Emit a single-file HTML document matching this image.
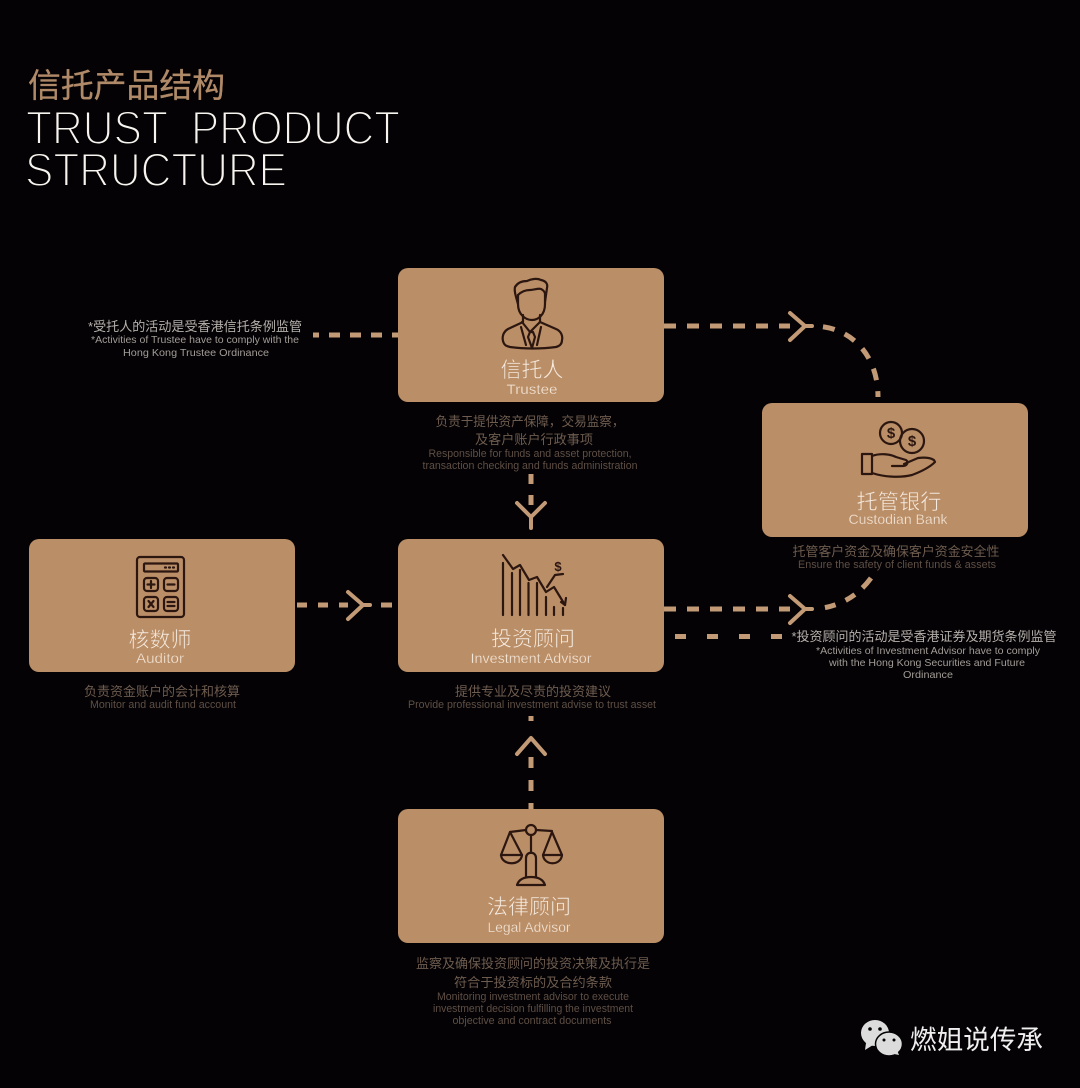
<!DOCTYPE html>
<html>
<head>
<meta charset="utf-8">
<style>
html,body{margin:0;padding:0;background:#040204;width:1080px;height:1088px;overflow:hidden}
svg{display:block;filter:blur(.35px)}
text{font-family:"Liberation Sans","Noto Sans CJK SC",sans-serif;text-anchor:middle}
.b{fill:#ba8e67}
.d{fill:none;stroke:#c29a76;stroke-width:5}
.a{fill:none;stroke:#c29a76;stroke-width:4;stroke-linecap:round;stroke-linejoin:round}
.i{fill:none;stroke:#2c1610;stroke-width:2.2;stroke-linecap:round;stroke-linejoin:round}
.cn{font-size:21px;fill:#f6ebdf;stroke:#ba8e67;stroke-width:.5}
.en{font-size:14px;fill:#f3e5d6;stroke:#ba8e67;stroke-width:.25}
.dc{font-size:13px;fill:#6e5c4f}
.de{font-size:11px;fill:#5e4f45}
.nc{font-size:13px;fill:#b5b0ab}
.ne{font-size:10.5px;fill:#a29d98}
.tt{font-size:47.5px;fill:#f8f5f0;stroke:#040204;stroke-width:2;text-anchor:start}
</style>
</head>
<body>
<svg width="1080" height="1088" viewBox="0 0 1080 1088" xmlns="http://www.w3.org/2000/svg">
<rect width="1080" height="1088" fill="#040204"/>

<!-- Title -->
<text x="28" y="97" style="text-anchor:start;font-size:33px;fill:#b08a68;stroke:#b08a68;stroke-width:.3" textLength="197" lengthAdjust="spacingAndGlyphs">信托产品结构</text>
<text class="tt" x="26" y="144" textLength="142" lengthAdjust="spacingAndGlyphs">TRUST</text>
<text class="tt" x="191" y="144" textLength="209" lengthAdjust="spacingAndGlyphs">PRODUCT</text>
<text class="tt" x="25" y="186" textLength="262" lengthAdjust="spacingAndGlyphs">STRUCTURE</text>

<!-- Connectors -->
<g class="d">
<path d="M313 335H398" stroke-dasharray="6 10 11 10 11 10 11 10 11"/>
<path d="M664 326H790" stroke-dasharray="12 11"/>
<path d="M813 326C848 326 878 352 878 397" stroke-dasharray="0 10 12 11 12 11 12 11 12 11 12"/>
<path d="M664 609H790" stroke-dasharray="12 11"/>
<path d="M813 609C838 608 858 596 871 578" stroke-dasharray="0 12 11 11 11 10 12"/>
<path d="M664 636.500H783" stroke-dasharray="0 11 11 10"/>
<path d="M297 605H348" stroke-dasharray="10 11"/>
<path d="M381 605H392"/>
<path d="M531 474V506" stroke-dasharray="10 11"/>
<path d="M531 716V721"/>
<path d="M531 757V809" stroke-dasharray="11 12"/>
</g>
<g class="a">
<path d="M790 313L805 326L790 340M805 326H812"/>
<path d="M790 596L805 609L790 623M805 609H812"/>
<path d="M348 592L363 605L348 619M363 605H370"/>
<path d="M517 503L531 517L545 503M531 517V528"/>
<path d="M517 754L531 738L545 754"/>
</g>

<!-- Boxes -->
<rect class="b" x="398" y="268" width="266" height="134" rx="10"/>
<rect class="b" x="762" y="403" width="266" height="134" rx="10"/>
<rect class="b" x="29" y="539" width="266" height="133" rx="10"/>
<rect class="b" x="398" y="539" width="266" height="133" rx="10"/>
<rect class="b" x="398" y="809" width="266" height="134" rx="10"/>

<!-- Person icon -->
<g class="i">
<path d="M518 304C516 297 514 291 515 287C518 282 523 281 527 281C531 279 537 278 541 280C546 281 548 284 547 288L545 302"/>
<path d="M518 295C522 291 526 290 530 290C534 290 538 288 541 289C543 290 545 292 545 294"/>
<path d="M518 295V304C518 315 526 320 532 320C538 320 545 315 545 304V294"/>
<path d="M523 315V322L508 329C503 332 502 337 503 341C504 345 506 346 510 347C524 349 542 349 556 347C560 346 562 344 562 340C563 336 561 331 556 329L540 322V315"/>
<path d="M522 322L530 332L540 322M521 327L526 345M541 327L537 345"/>
<path d="M530 332L528 337L532 348L535 337L533 332Z"/>
</g>

<!-- Coins hand icon -->
<g class="i">
<circle cx="891" cy="433" r="11"/>
<circle cx="912" cy="441" r="12"/>
<path d="M862 454H872V474H862Z"/>
<path d="M872 456C880 453 890 454 896 457L906 460C909 462 907 466 903 466L892 466M904 464L918 458C926 457 934 458 935 462C930 467 920 472 912 475C900 478 884 477 872 473"/>
</g>
<text x="891" y="438" style="font-size:15px;font-weight:bold;fill:#2c1610">$</text>
<text x="912" y="446" style="font-size:15px;font-weight:bold;fill:#2c1610">$</text>

<!-- Calculator icon -->
<g class="i">
<rect x="137" y="557" width="47" height="60" rx="3"/>
<rect x="144" y="563.500" width="34" height="8" rx="1"/>
<rect x="144" y="578" width="14" height="13" rx="3"/>
<rect x="164" y="578" width="14" height="13" rx="3"/>
<rect x="144" y="597" width="14" height="14" rx="3"/>
<rect x="164" y="597" width="14" height="14" rx="3"/>
<path d="M147.500 584.500H154.500M151 581V588M167.500 584.500H174.500M148.500 601L153.500 607M153.500 601L148.500 607M167.500 602H174.500M167.500 606H174.500M165 567.500H166M169 567.500H170M173 567.500H174"/>
</g>

<!-- Chart icon -->
<g class="i">
<path d="M503 563V615M512 573V615M520 570V615M528.500 583V615M537 583V615M546 597V615M554 607V615M563 608V615"/>
<path d="M503 555L513 569L520 565L529 580L537 577L546 592L554 587L565 605"/>
<path d="M561 602L565 605L566 598"/>
<path d="M547 587L555 575L563 574"/>
</g>
<text x="558" y="571" style="font-size:13px;font-weight:bold;fill:#2c1610">$</text>

<!-- Scale icon -->
<g class="i">
<circle cx="531" cy="830" r="5"/>
<path d="M526 830L510 832M536 830L552 831"/>
<path d="M510 832L501 855H522Z"/>
<path d="M501 855C502 866 521 866 522 855"/>
<path d="M552 832L543 855H562Z"/>
<path d="M543 855C544 866 561 866 562 855"/>
<path d="M531 835V853"/>
<path d="M526 877V858C526 851 536 851 536 858V877"/>
<path d="M517 885C519 879 525 877 531 877C537 877 543 879 545 885Z"/>
</g>

<!-- Box labels -->
<text class="cn" x="532" y="377" textLength="63" lengthAdjust="spacingAndGlyphs">信托人</text>
<text class="en" x="532" y="394" textLength="51" lengthAdjust="spacingAndGlyphs">Trustee</text>
<text class="cn" x="899" y="509" textLength="85" lengthAdjust="spacingAndGlyphs">托管银行</text>
<text class="en" x="898" y="524" textLength="99" lengthAdjust="spacingAndGlyphs">Custodian Bank</text>
<text class="cn" x="160" y="647" textLength="63" lengthAdjust="spacingAndGlyphs">核数师</text>
<text class="en" x="160" y="663" textLength="48" lengthAdjust="spacingAndGlyphs">Auditor</text>
<text class="cn" x="533" y="646" textLength="84" lengthAdjust="spacingAndGlyphs">投资顾问</text>
<text class="en" x="531" y="663" textLength="121" lengthAdjust="spacingAndGlyphs">Investment Advisor</text>
<text class="cn" x="529" y="914" textLength="84" lengthAdjust="spacingAndGlyphs">法律顾问</text>
<text class="en" x="529" y="932" textLength="83" lengthAdjust="spacingAndGlyphs">Legal Advisor</text>

<!-- Descriptions -->
<text class="dc" x="530" y="426" textLength="189" lengthAdjust="spacingAndGlyphs">负责于提供资产保障，交易监察，</text>
<text class="dc" x="534" y="444" textLength="118" lengthAdjust="spacingAndGlyphs">及客户账户行政事项</text>
<text class="de" x="530" y="457" textLength="203" lengthAdjust="spacingAndGlyphs">Responsible for funds and asset protection,</text>
<text class="de" x="530" y="469" textLength="215" lengthAdjust="spacingAndGlyphs">transaction checking and funds administration</text>

<text class="dc" x="896" y="556" textLength="207" lengthAdjust="spacingAndGlyphs">托管客户资金及确保客户资金安全性</text>
<text class="de" x="897" y="568" textLength="198" lengthAdjust="spacingAndGlyphs">Ensure the safety  of client funds &amp; assets</text>

<text class="dc" x="162" y="696" textLength="156" lengthAdjust="spacingAndGlyphs">负责资金账户的会计和核算</text>
<text class="de" x="163" y="708" textLength="146" lengthAdjust="spacingAndGlyphs">Monitor and audit fund account</text>

<text class="dc" x="533" y="696" textLength="156" lengthAdjust="spacingAndGlyphs">提供专业及尽责的投资建议</text>
<text class="de" x="532" y="708" textLength="248" lengthAdjust="spacingAndGlyphs">Provide professional investment advise to trust asset</text>

<text class="dc" x="533" y="968" textLength="234" lengthAdjust="spacingAndGlyphs">监察及确保投资顾问的投资决策及执行是</text>
<text class="dc" x="533" y="987" textLength="158" lengthAdjust="spacingAndGlyphs">符合于投资标的及合约条款</text>
<text class="de" x="533" y="1000" textLength="192" lengthAdjust="spacingAndGlyphs">Monitoring investment advisor to execute</text>
<text class="de" x="533" y="1012" textLength="200" lengthAdjust="spacingAndGlyphs">investment decision fulfilling the investment</text>
<text class="de" x="532" y="1024" textLength="159" lengthAdjust="spacingAndGlyphs">objective and contract documents</text>

<!-- Notes -->
<text class="nc" x="195" y="331" textLength="214" lengthAdjust="spacingAndGlyphs">*受托人的活动是受香港信托条例监管</text>
<text class="ne" x="195" y="343" textLength="208" lengthAdjust="spacingAndGlyphs">*Activities of Trustee have to comply with the</text>
<text class="ne" x="196" y="356" textLength="146" lengthAdjust="spacingAndGlyphs">Hong Kong Trustee Ordinance</text>

<text class="nc" x="924" y="641" textLength="265" lengthAdjust="spacingAndGlyphs">*投资顾问的活动是受香港证券及期货条例监管</text>
<text class="ne" x="928" y="654" textLength="224" lengthAdjust="spacingAndGlyphs">*Activities of Investment Advisor have to comply</text>
<text class="ne" x="927" y="666" textLength="196" lengthAdjust="spacingAndGlyphs">with the Hong Kong Securities and Future</text>
<text class="ne" x="928" y="678" textLength="50" lengthAdjust="spacingAndGlyphs">Ordinance</text>

<!-- Watermark -->
<g>
<ellipse cx="875" cy="1033" rx="14" ry="13" fill="#dcdcdc"/>
<path d="M866 1043L865 1050L873 1045Z" fill="#dcdcdc"/>
<ellipse cx="889" cy="1044" rx="13.500" ry="12" fill="#dcdcdc" stroke="#040204" stroke-width="1.500"/>
<path d="M894 1054L899 1055L897 1050Z" fill="#dcdcdc"/>
<circle cx="870" cy="1029" r="1.800" fill="#040204"/>
<circle cx="880" cy="1029" r="1.800" fill="#040204"/>
<circle cx="884" cy="1040" r="1.500" fill="#040204"/>
<circle cx="894" cy="1040" r="1.500" fill="#040204"/>
</g>
<text x="976.500" y="1049" style="font-size:26.500px;fill:#efefef" textLength="133" lengthAdjust="spacingAndGlyphs">燃姐说传承</text>
</svg>
</body>
</html>
